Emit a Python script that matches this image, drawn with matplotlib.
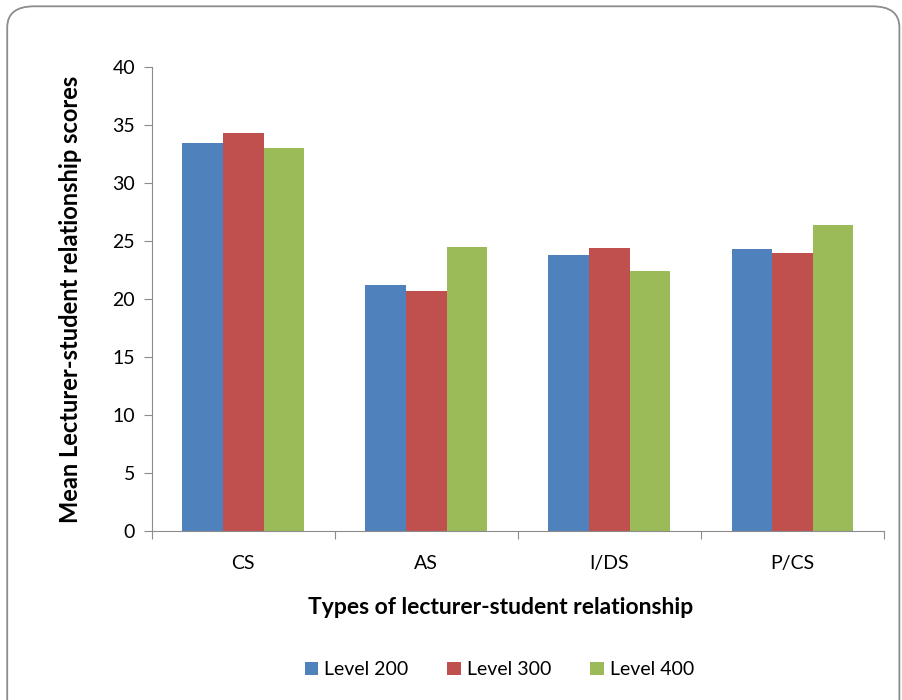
import matplotlib.pyplot as plt
import numpy as np
from matplotlib.patches import FancyBboxPatch

categories = ['CS', 'AS', 'I/DS', 'P/CS']
level_200 = [33.5, 21.2, 23.8, 24.3]
level_300 = [34.3, 20.7, 24.4, 24.0]
level_400 = [33.0, 24.5, 22.4, 26.4]
series_names = ['Level 200', 'Level 300', 'Level 400']
colors = ['#4f81bd', '#c0504d', '#9bbb59']

plt.rcParams['font.family'] = ['Lato', 'DejaVu Sans']

fig = plt.figure(figsize=(9.03, 7), dpi=100)
fig.patches.append(FancyBboxPatch((0.008, -0.05), 0.988, 1.041,
                                  boxstyle='round,pad=0,rounding_size=0.03',
                                  transform=fig.transFigure, fill=False,
                                  edgecolor='#8c8c8c', linewidth=1.3))

ax = fig.add_axes([0.168, 0.241, 0.811, 0.663])
x = np.arange(len(categories))
w = 0.222
for i, vals in enumerate([level_200, level_300, level_400]):
    ax.bar(x + (i - 1) * w, vals, w, color=colors[i], label=series_names[i])

ax.set_xlim(-0.5, 3.5)
ax.set_ylim(0, 40)
ax.set_yticks(range(0, 41, 5))
ax.set_xticks(np.arange(-0.5, 4, 1))
ax.set_xticklabels([])
ax.set_xticks(x, minor=True)
ax.set_xticklabels(categories, minor=True)
ax.tick_params(axis='x', which='minor', length=0, pad=17, labelsize=14)
ax.tick_params(axis='x', which='major', length=6, color='#8c8c8c')
ax.tick_params(axis='y', length=6, color='#8c8c8c', labelsize=14, pad=6)
for s in ['top', 'right']:
    ax.spines[s].set_visible(False)
for s in ['left', 'bottom']:
    ax.spines[s].set_color('#8c8c8c')

ax.set_xlabel('Types of lecturer-student relationship', fontsize=16.5, fontweight='bold')
ax.xaxis.set_label_coords(0.477, -0.142)
ax.set_ylabel('Mean Lecturer-student relationship scores', fontsize=17, fontweight='bold', labelpad=22)

fig.legend(loc='center', bbox_to_anchor=(0.553, 0.043), ncol=3, frameon=False,
           fontsize=14, handlelength=0.7, handleheight=0.7, handletextpad=0.3, columnspacing=2.0)

fig.savefig('out.png', dpi=100)
